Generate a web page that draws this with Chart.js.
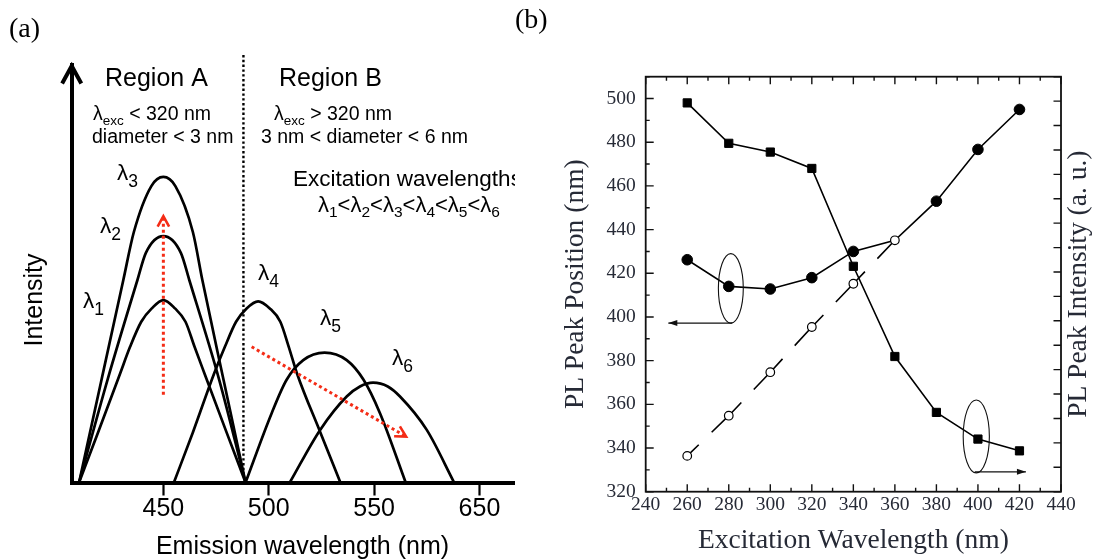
<!DOCTYPE html>
<html>
<head>
<meta charset="utf-8">
<script src="https://cdn.jsdelivr.net/npm/chart.js@4.4.1/dist/chart.umd.min.js"></script>
<style>
  html, body { margin: 0; padding: 0; background: #fff; }
  body { width: 1102px; height: 560px; position: relative; overflow: hidden; }
  #panelA { position: absolute; left: 0; top: 0; }
  #panelB { position: absolute; left: 510px; top: 0; }
</style>
</head>
<body>
<canvas id="panelA" width="515" height="560"></canvas>
<canvas id="panelB" width="592" height="560"></canvas>
<script>
// ---- panel (a): schematic emission spectra, [nm, intensity]
const spectrum1 = [[410, 0], [419, 12], [429.4, 26], [434.2, 32.5], [439.5, 38.5], [444.5, 41.7], [450, 43.7], [455.5, 41.7], [460.5, 38.5], [464.8, 32.5], [469.6, 26], [480, 12], [489, 0]];
const spectrum2 = [[410, 0], [423.5, 24.6], [437.7, 48.5], [441.7, 55], [450, 59], [458.3, 55], [462.3, 48.5], [476.5, 24.6], [489, 0]];
const spectrum3 = [[410, 0], [420.6, 24.5], [431, 48.5], [436, 60], [444.3, 71], [450, 73.2], [455.7, 71], [464, 60], [468.5, 48.5], [478.6, 24.5], [489, 0]];
const spectrum4 = [[455, 0], [464, 12], [474, 26], [479.2, 32.5], [484.5, 38.5], [489.5, 41.7], [495, 43.4], [500.5, 41.7], [505.5, 38.5], [509.5, 32.5], [513.5, 26], [524.5, 12], [534, 0]];
const spectrum5 = [[489, 0], [501.4, 16.6], [508.5, 24.6], [516.4, 29.3], [526.5, 31.1], [537, 29.3], [545, 24.6], [552.8, 16.6], [565, 0]];
const spectrum6 = [[510, 0], [524.4, 12.6], [537, 20.6], [543.3, 23], [549.5, 23.9], [556.5, 23], [562.3, 20.6], [575, 12.6], [588, 0]];
const spectra = [spectrum1, spectrum2, spectrum3, spectrum4, spectrum5, spectrum6];

const emissionTicks = [450, 500, 550, 600];
const emissionTickLabels = ['450', '500', '550', '650'];
const regionBoundary = 488;
// red dotted "shift" arrows, [nm, intensity] start -> end
const shiftUp = [[450, 21], [450, 63.8]];
const shiftRight = [[491.9, 32.5], [565.2, 11]];

// ---- panel (b): PL peak data vs excitation wavelength
const excitation = [260, 280, 300, 320, 340, 360, 380, 400, 420];
const peakIntensity = [498, 479.5, 475.5, 468, 423.2, 381.9, 356.3, 344.1, 338.7];
const peakPosition = [426.2, 414, 412.8, 418, 430, 435.1, 453, 476.7, 495];
const positionOpen = [336.4, 354.8, 374.7, 395.4, 415.2, 435.1]; // 260 .. 360
// ellipses marking which axis a series belongs to
const ellipseMarks = [{ x: 281, y: 413.1, rx: 6.0, ry: 15.9 }, { x: 399.2, y: 345.3, rx: 6.3, ry: 16.7 }];
const axisArrows = [{ from: [281.7, 397.2], to: [250.9, 397.2] }, { from: [398.5, 329.1], to: [423.1, 329.1] }];

const SANS = 'Liberation Sans';
const SERIF = 'Liberation Serif';
const RED = 'rgb(244, 44, 22)';
const INK_B = '#262a36';

function seg(ctx, x1, y1, x2, y2) {
  ctx.beginPath();
  ctx.moveTo(x1, y1);
  ctx.lineTo(x2, y2);
  ctx.stroke();
}

function chevron(ctx, tx, ty, angle, len, spread) {
  // angle = direction the arrow points to
  ctx.beginPath();
  ctx.moveTo(tx - len * Math.cos(angle - spread), ty - len * Math.sin(angle - spread));
  ctx.lineTo(tx, ty);
  ctx.lineTo(tx - len * Math.cos(angle + spread), ty - len * Math.sin(angle + spread));
  ctx.stroke();
}

// parts: [text, isSubscript]
function richText(ctx, parts, x, y, size, subSize, subDy) {
  let cx = x;
  parts.forEach(([txt, sub]) => {
    ctx.font = (sub ? subSize : size) + 'px "' + SANS + '"';
    ctx.fillText(txt, cx, sub ? y + subDy : y);
    cx += ctx.measureText(txt).width;
  });
}

const panelAOverlay = {
  id: 'panelAOverlay',
  afterDatasetsDraw(chart) {
    const { ctx, chartArea: area, scales: { x, y } } = chart;
    ctx.save();
    // region boundary
    ctx.strokeStyle = '#000';
    ctx.lineWidth = 2.4;
    ctx.setLineDash([2.4, 2.4]);
    const bx = x.getPixelForValue(regionBoundary);
    seg(ctx, bx, area.top - 10, bx, y.getPixelForValue(2));

    // red shift arrows
    ctx.strokeStyle = RED;
    ctx.lineWidth = 3;
    ctx.setLineDash([3, 3]);
    [shiftUp, shiftRight].forEach(pts => {
      const x1 = x.getPixelForValue(pts[0][0]), y1 = y.getPixelForValue(pts[0][1]);
      const x2 = x.getPixelForValue(pts[1][0]), y2 = y.getPixelForValue(pts[1][1]);
      seg(ctx, x1, y1, x2, y2);
      ctx.save();
      ctx.setLineDash([]);
      ctx.lineWidth = 2.6;
      chevron(ctx, x2, y2, Math.atan2(y2 - y1, x2 - x1), 12, 0.5);
      ctx.restore();
    });

    // y axis arrow head
    ctx.setLineDash([]);
    ctx.strokeStyle = '#000';
    ctx.lineWidth = 4;
    ctx.lineJoin = 'miter';
    chevron(ctx, area.left, area.top + 1, -Math.PI / 2, 20, 0.5);
    ctx.restore();
  },
  afterDraw(chart) {
    const { ctx } = chart;
    ctx.save();
    ctx.fillStyle = '#000';
    ctx.textBaseline = 'alphabetic';
    ctx.textAlign = 'left';

    ctx.font = '28px "' + SERIF + '"';
    ctx.fillText('(a)', 9, 37);

    ctx.font = '25px "' + SANS + '"';
    ctx.fillText('Region A', 105, 86);
    ctx.fillText('Region B', 279, 86);

    richText(ctx, [['λ', false], ['exc', true], [' < 320 nm', false]], 93, 120, 19.5, 13.5, 5);
    richText(ctx, [['diameter < 3 nm', false]], 92, 143, 19.5, 13.5, 5);
    richText(ctx, [['λ', false], ['exc', true], [' > 320 nm', false]], 274, 120, 19.5, 13.5, 5);
    richText(ctx, [['3 nm < diameter < 6 nm', false]], 261, 143, 19.5, 13.5, 5);

    richText(ctx, [['Excitation wavelengths', false]], 293, 186, 22.5, 15, 6);
    richText(ctx, [['λ', false], ['1', true], ['<', false], ['λ', false], ['2', true], ['<', false], ['λ', false], ['3', true],
      ['<', false], ['λ', false], ['4', true], ['<', false], ['λ', false], ['5', true], ['<', false], ['λ', false], ['6', true]],
      318, 212, 22, 15.5, 5);

    const curveLabels = [['1', 83, 308], ['2', 100, 233], ['3', 117, 180], ['4', 258, 280], ['5', 320, 325], ['6', 392, 365]];
    curveLabels.forEach(([n, lx, ly]) => richText(ctx, [['λ', false], [n, true]], lx, ly, 22.5, 17.5, 6.5));

    ctx.font = '25px "' + SANS + '"';
    ctx.textAlign = 'center';
    ctx.fillText('Emission wavelength (nm)', 302.5, 554);
    ctx.save();
    ctx.translate(42, 300);
    ctx.rotate(-Math.PI / 2);
    ctx.fillText('Intensity', 0, 0);
    ctx.restore();
    ctx.restore();
  }
};

new Chart(document.getElementById('panelA'), {
  type: 'line',
  data: {
    datasets: spectra.map(s => ({
      data: s.map(([nm, v]) => ({ x: nm, y: v })),
      borderColor: '#000',
      borderWidth: 2.7,
      pointRadius: 0,
      cubicInterpolationMode: 'monotone',
      fill: false
    }))
  },
  options: {
    responsive: false,
    animation: false,
    devicePixelRatio: 1,
    layout: { padding: { top: 65, left: 0, right: 1, bottom: 0 } },
    plugins: { legend: { display: false }, tooltip: { enabled: false } },
    scales: {
      x: {
        type: 'linear', min: 406.5, max: 616.4,
        afterBuildTicks: s => { s.ticks = emissionTicks.map(v => ({ value: v })); },
        ticks: {
          autoSkip: false, maxRotation: 0, padding: -1.5, color: '#000',
          font: { family: SANS, size: 25 },
          callback: (v, i) => emissionTickLabels[i]
        },
        grid: { display: true, drawOnChartArea: false, drawTicks: true, tickLength: 13, tickWidth: 2.2, tickColor: '#000' },
        border: { display: true, width: 4, color: '#000' },
        afterFit: s => { s.height = 77.5; }
      },
      y: {
        type: 'linear', min: 0, max: 100,
        ticks: { display: false },
        grid: { display: false, drawTicks: false },
        border: { display: true, width: 4, color: '#000' },
        afterFit: s => { s.width = 71.7; }
      }
    }
  },
  plugins: [panelAOverlay]
});

// ---- panel (b)
function arrowHead(ctx, tx, ty, angle) {
  ctx.beginPath();
  ctx.moveTo(tx, ty);
  ctx.lineTo(tx - 9 * Math.cos(angle) - 3 * Math.sin(angle), ty - 9 * Math.sin(angle) + 3 * Math.cos(angle));
  ctx.lineTo(tx - 9 * Math.cos(angle) + 3 * Math.sin(angle), ty - 9 * Math.sin(angle) - 3 * Math.cos(angle));
  ctx.closePath();
  ctx.fill();
}

const panelBFrame = {
  id: 'panelBFrame',
  afterDraw(chart) {
    const { ctx, chartArea: a, scales: { x, y, y2 } } = chart;
    ctx.save();
    ctx.strokeStyle = '#111';
    ctx.fillStyle = '#111';
    ctx.lineWidth = 1.4;
    ctx.beginPath();
    x.ticks.forEach(t => {
      const px = x.getPixelForValue(t.value);
      const len = Math.round(t.value) % 20 === 0 ? 7.5 : 4;
      ctx.moveTo(px, a.bottom); ctx.lineTo(px, a.bottom - len);
      ctx.moveTo(px, a.top); ctx.lineTo(px, a.top + len);
    });
    y.ticks.forEach(t => {
      const py = y.getPixelForValue(t.value);
      const len = Math.round(t.value) % 20 === 0 ? 8 : 4;
      ctx.moveTo(a.left, py); ctx.lineTo(a.left + len, py);
    });
    y2.ticks.forEach(t => {
      const py = y2.getPixelForValue(t.value);
      ctx.moveTo(a.right, py); ctx.lineTo(a.right - 7.5, py);
    });
    ctx.stroke();
    ctx.lineWidth = 1.8;
    ctx.strokeRect(a.left, a.top, a.right - a.left, a.bottom - a.top);

    // ellipses and axis arrows
    ctx.lineWidth = 1.1;
    ellipseMarks.forEach(e => {
      const cx = x.getPixelForValue(e.x), cy = y.getPixelForValue(e.y);
      const rx = x.getPixelForValue(e.x + e.rx) - cx, ry = cy - y.getPixelForValue(e.y + e.ry);
      ctx.beginPath();
      ctx.ellipse(cx, cy, rx, ry, 0, 0, Math.PI * 2);
      ctx.stroke();
    });
    ctx.lineWidth = 1.3;
    axisArrows.forEach(ar => {
      const x1 = x.getPixelForValue(ar.from[0]), y1 = y.getPixelForValue(ar.from[1]);
      const x2 = x.getPixelForValue(ar.to[0]), y2p = y.getPixelForValue(ar.to[1]);
      seg(ctx, x1, y1, x2, y2p);
      arrowHead(ctx, x2, y2p, Math.atan2(y2p - y1, x2 - x1));
    });

    // right axis title and panel letter
    ctx.fillStyle = INK_B;
    ctx.font = '27.5px "' + SERIF + '"';
    ctx.textAlign = 'center';
    ctx.textBaseline = 'middle';
    ctx.save();
    ctx.translate(569, (a.top + a.bottom) / 2);
    ctx.rotate(-Math.PI / 2);
    ctx.fillText('PL Peak Intensity (a. u.)', 0, 0);
    ctx.restore();
    ctx.fillStyle = '#000';
    ctx.textAlign = 'left';
    ctx.textBaseline = 'alphabetic';
    ctx.font = '28px "' + SERIF + '"';
    ctx.fillText('(b)', 5, 27.5);
    ctx.restore();
  }
};

const tickFont = { family: SERIF, size: 19.5 };
const everyOther = v => (Math.round(v) % 20 === 0 ? Math.round(v) : '');

new Chart(document.getElementById('panelB'), {
  type: 'line',
  data: {
    datasets: [
      {
        data: positionOpen.map((v, i) => ({ x: excitation[i], y: v })),
        borderColor: '#000', borderWidth: 1.6, borderDash: [42, 18], borderDashOffset: 26,
        pointStyle: 'circle', pointRadius: 4.3, pointBorderWidth: 1.2,
        pointBackgroundColor: '#fff', pointBorderColor: '#000', tension: 0
      },
      {
        data: peakPosition.map((v, i) => ({ x: excitation[i], y: v })),
        borderColor: '#000', borderWidth: 1.6,
        pointStyle: 'circle', pointBorderWidth: 1,
        pointRadius: ctx => (excitation[ctx.dataIndex] === 360 ? 0 : 5.3),
        pointBackgroundColor: '#000', pointBorderColor: '#000', tension: 0
      },
      {
        data: peakIntensity.map((v, i) => ({ x: excitation[i], y: v })),
        borderColor: '#000', borderWidth: 1.6,
        pointStyle: 'rect', pointRadius: 5.8, pointBorderWidth: 1,
        pointBackgroundColor: '#000', pointBorderColor: '#000', tension: 0
      }
    ]
  },
  options: {
    responsive: false,
    animation: false,
    devicePixelRatio: 1,
    layout: { padding: { top: 76.7, left: 0, right: 0, bottom: 0 } },
    plugins: { legend: { display: false }, tooltip: { enabled: false } },
    scales: {
      x: {
        type: 'linear', min: 240, max: 440,
        ticks: { stepSize: 10, autoSkip: false, maxRotation: 0, padding: 1, color: INK_B, font: tickFont, callback: everyOther },
        grid: { display: false, drawTicks: false },
        border: { display: false },
        title: { display: true, text: 'Excitation Wavelength (nm)', color: INK_B, font: { family: SERIF, size: 27.5 }, padding: { top: 0, bottom: 2.5 } },
        afterFit: s => { s.height = 68.3; }
      },
      y: {
        type: 'linear', min: 320, max: 510,
        ticks: { stepSize: 10, autoSkip: false, padding: 10, color: INK_B, font: tickFont, callback: everyOther },
        grid: { display: false, drawTicks: false },
        border: { display: false },
        title: { display: true, text: 'PL Peak Position (nm)', color: INK_B, font: { family: SERIF, size: 27.5 }, padding: { top: 49.2, bottom: 0 } },
        afterFit: s => { s.width = 135.7; }
      },
      y2: {
        type: 'linear', position: 'right', min: 0, max: 17,
        ticks: { stepSize: 1, display: false },
        grid: { display: false, drawTicks: false },
        border: { display: false },
        afterFit: s => { s.width = 41; }
      }
    }
  },
  plugins: [panelBFrame]
});
</script>
</body>
</html>
